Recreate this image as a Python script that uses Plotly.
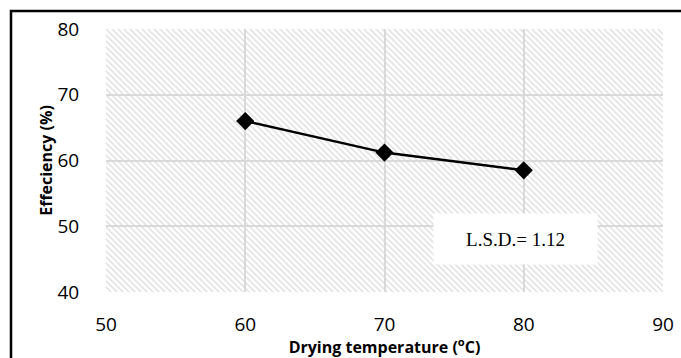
import base64
import plotly.graph_objects as go

# Drying temperature vs. efficiency
temperature = [60, 70, 80]
efficiency = [66.0, 61.2, 58.5]

x_ticks = [50, 60, 70, 80, 90]
y_ticks = [40, 50, 60, 70, 80]
lsd_text = "L.S.D.= 1.12"

W, H = 681, 358
M_L, M_R, M_T, M_B = 106, 18, 29, 66
PW, PH = W - M_L - M_R, H - M_T - M_B

# diagonal hatch used as the plot-area background
hatch_svg = f"""<svg xmlns='http://www.w3.org/2000/svg' width='{PW}' height='{PH}' viewBox='0 0 {PW} {PH}' preserveAspectRatio='none'>
<defs><pattern id='h' patternUnits='userSpaceOnUse' width='6' height='6'>
<path d='M0,0 L6,6 M-1,5 L1,7 M5,-1 L7,1' stroke='#e0e0e0' stroke-width='1.5'/>
</pattern></defs>
<rect width='100%' height='100%' fill='white'/>
<rect width='100%' height='100%' fill='url(#h)'/>
</svg>"""
hatch_uri = "data:image/svg+xml;base64," + base64.b64encode(hatch_svg.encode()).decode()

fig = go.Figure()
fig.add_trace(go.Scatter(
    x=temperature, y=efficiency, mode="lines+markers",
    line=dict(color="black", width=2.5),
    marker=dict(symbol="diamond", size=14, color="black"),
    showlegend=False, cliponaxis=False,
))

fig.add_layout_image(dict(
    source=hatch_uri, xref="x domain", yref="y domain",
    x=0, y=1, sizex=1, sizey=1, xanchor="left", yanchor="top",
    sizing="stretch", layer="below",
))

# outer chart frame
fig.add_shape(type="rect", xref="paper", yref="paper",
              x0=(11 - M_L) / PW, x1=1 + (M_R + 20) / PW,
              y0=-(M_B + 20) / PH, y1=1 + (M_T - 11) / PH,
              line=dict(color="black", width=2.5), fillcolor="rgba(0,0,0,0)",
              layer="above")

fig.add_annotation(
    x=79.4, y=48, xref="x", yref="y", text=lsd_text, showarrow=False,
    font=dict(family="Liberation Serif", size=19, color="black"),
    bgcolor="white", width=143, height=30, borderpad=10,
)

tick_font = dict(family="Open Sans", size=19, color="black")
title_font = dict(family="Open Sans", size=16, color="black")

fig.update_xaxes(
    range=[50, 90], tickvals=x_ticks, ticktext=[str(v) for v in x_ticks],
    showgrid=True, gridcolor="#d9d9d9", gridwidth=2, zeroline=False,
    showline=False, ticks="outside", ticklen=15, tickcolor="rgba(0,0,0,0)",
    tickfont=tick_font, automargin=False,
    title=dict(text="<b>Drying temperature (<sup>o</sup>C)</b>", font=title_font, standoff=2),
)
fig.update_yaxes(
    range=[40, 80], tickvals=y_ticks, ticktext=[str(v) for v in y_ticks],
    showgrid=True, gridcolor="#d9d9d9", gridwidth=2, zeroline=False,
    showline=False, ticks="outside", ticklen=22, tickcolor="rgba(0,0,0,0)",
    tickfont=tick_font, automargin=False,
    title=dict(text="<b>Effeciency (%)</b>", font=title_font, standoff=0),
)

fig.update_layout(
    width=W, height=H,
    margin=dict(l=M_L, r=M_R, t=M_T, b=M_B, autoexpand=False),
    paper_bgcolor="white", plot_bgcolor="rgba(0,0,0,0)",
)

fig.write_html("out.html")
